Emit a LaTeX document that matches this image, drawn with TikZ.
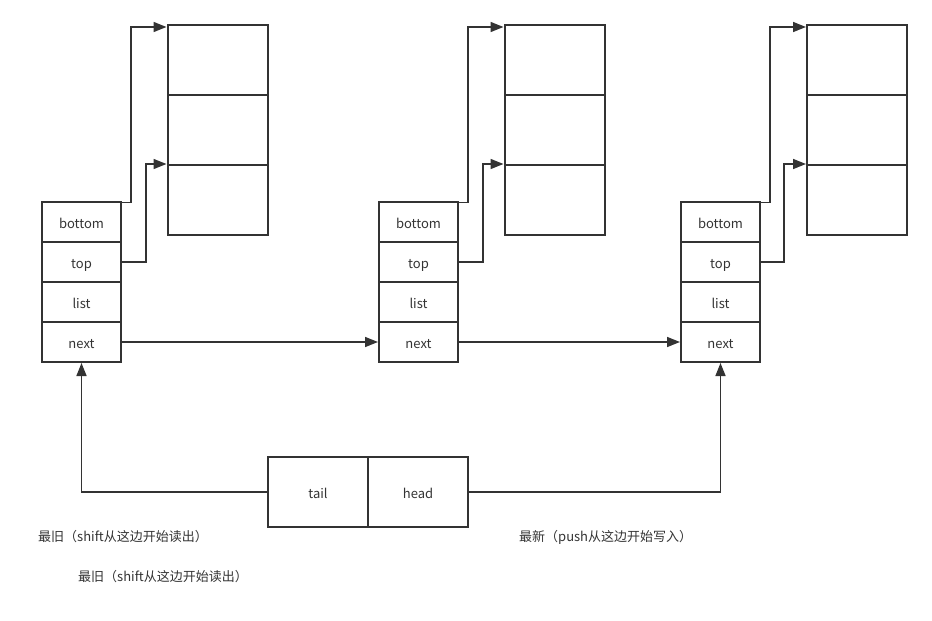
\documentclass[tikz,border=0pt]{standalone}
\usepackage{fontspec}
\setmainfont{Noto Sans CJK SC}
\usetikzlibrary{arrows.meta}
\definecolor{ink}{HTML}{333333}
\tikzset{
  cell/.style={draw=ink, line width=2pt, rectangle, inner sep=0pt, minimum width=79pt, minimum height=40pt, text=ink, text height=13pt, text depth=0pt, font=\fontsize{13}{15}\selectfont},
  arrcell/.style={draw=ink, line width=2pt, rectangle, inner sep=0pt, minimum width=100pt, minimum height=70pt},
  pair/.style={draw=ink, line width=2pt, rectangle, inner sep=0pt, minimum width=100pt, minimum height=70pt, text=ink, text height=13pt, text depth=0pt, font=\fontsize{13}{15}\selectfont},
  conn/.style={draw=ink, line width=1.5pt, -{Triangle[length=13pt,width=10pt]}},
  note/.style={anchor=west, inner sep=0pt, text=ink, font=\fontsize{13}{15}\selectfont}
}
\begin{document}
\begin{tikzpicture}[x=1pt,y=-1pt]
\useasboundingbox (0,0) rectangle (932,621);
% structs
\foreach \n/\x in {1/81.5, 2/418.5, 3/720.5}{
  \node[cell] (s\n b) at (\x,222) {bottom};
  \node[cell] (s\n t) at (\x,262) {top};
  \node[cell] (s\n l) at (\x,302) {list};
  \node[cell] (s\n n) at (\x,342) {next};
}
% arrays
\foreach \n/\x in {1/217.5, 2/554.5, 3/857}{
  \node[arrcell] (a\n r1) at (\x,60) {};
  \node[arrcell] (a\n r2) at (\x,130) {};
  \node[arrcell] (a\n r3) at (\x,200) {};
}
% tail/head
\node[pair] (tail) at (318,492) {tail};
\node[pair] (head) at (418,492) {head};
% connectors bottom/top
\draw[conn] ([yshift=-1.5pt]s1b.north east) -- ++(9,0) |- ([yshift=-3pt]a1r1.north west);
\draw[conn] (s1t.east) -- ++(24,0) |- (a1r3.north west);
\draw[conn] ([yshift=-1.5pt]s2b.north east) -- ++(9,0) |- ([yshift=-3pt]a2r1.north west);
\draw[conn] (s2t.east) -- ++(24,0) |- (a2r3.north west);
\draw[conn] ([yshift=-1.5pt]s3b.north east) -- ++(9,0) |- ([yshift=-3pt]a3r1.north west);
\draw[conn] (s3t.east) -- ++(23,0) |- (a3r3.north west);
% next links
\draw[conn] (s1n.east) -- (s2n.west);
\draw[conn] (s2n.east) -- (s3n.west);
% tail/head
\draw[conn] (tail.west) -| (s1n.south);
\draw[conn] (head.east) -| (s3n.south);
% notes
\node[note] (n1) at (38,537) {最旧（shift从这边开始读出）};
\node[note] (n2) at (519,537) {最新（push从这边开始写入）};
\node[note] (n3) at (78,577) {最旧（shift从这边开始读出）};
\end{tikzpicture}
\end{document}
